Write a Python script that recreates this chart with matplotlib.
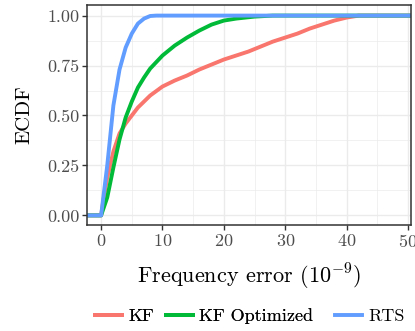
import matplotlib
matplotlib.use("Agg")
import matplotlib.pyplot as plt
from matplotlib.lines import Line2D

plt.rcParams['font.family'] = ['cmr10', 'DejaVu Serif']
plt.rcParams['mathtext.fontset'] = 'cm'
plt.rcParams['axes.formatter.use_mathtext'] = True

# ECDF curves (x: frequency error in 1e-9, y: ECDF)
kf_x = [-10, 0, 0.5, 1, 2, 3, 4, 5, 6, 7, 8, 10, 12, 14, 16, 18, 20, 22, 24, 26, 28, 30, 32, 34, 36, 38, 40, 42, 60]
kf_y = [0, 0, 0.10, 0.19, 0.32, 0.41, 0.46, 0.50, 0.54, 0.57, 0.60, 0.645, 0.675, 0.70, 0.73, 0.755, 0.78, 0.80,
        0.82, 0.845, 0.87, 0.89, 0.91, 0.935, 0.955, 0.975, 0.99, 1.0, 1.0]

kfo_x = [-10, 0, 1, 2, 3, 4, 5, 6, 7, 8, 10, 12, 14, 16, 18, 20, 22, 25, 28, 60]
kfo_y = [0, 0, 0.09, 0.24, 0.38, 0.49, 0.57, 0.64, 0.69, 0.735, 0.80, 0.85, 0.89, 0.925, 0.955, 0.975, 0.985,
         0.995, 1.0, 1.0]

rts_x = [-10, 0, 1, 2, 3, 4, 5, 6, 7, 8, 9, 60]
rts_y = [0, 0, 0.25, 0.55, 0.73, 0.84, 0.91, 0.96, 0.985, 0.998, 1.0, 1.0]

labels = ['KF', 'KF Optimized', 'RTS']
colors = ['#F8766D', '#00BA38', '#619CFF']

fig = plt.figure(figsize=(4.15, 3.31), dpi=100)
ax = fig.add_axes([87/415, 1 - 225/331, 324/415, 220/331])

for xs, ys, c in zip([kf_x, kfo_x, rts_x], [kf_y, kfo_y, rts_y], colors):
    ax.plot(xs, ys, color=c, lw=2.8, solid_capstyle='butt')

ax.set_xlim(-2.3, 50.5)
ax.set_ylim(-0.048, 1.053)
ax.set_xticks([0, 10, 20, 30, 40, 50])
ax.set_xticks([5, 15, 25, 35, 45], minor=True)
ax.set_yticks([0, 0.25, 0.5, 0.75, 1.0])
ax.set_yticks([0.125, 0.375, 0.625, 0.875], minor=True)
ax.set_yticklabels(['0.00', '0.25', '0.50', '0.75', '1.00'])
ax.grid(True, which='major', color='#EBEBEB', lw=1.0)
ax.grid(True, which='minor', color='#EBEBEB', lw=0.5)
ax.set_axisbelow(True)
ax.tick_params(which='major', length=3.5, width=1, color='#333333', labelcolor='#4D4D4D', labelsize=13, pad=2)
ax.tick_params(which='minor', length=0)
for s in ax.spines.values():
    s.set_color('#333333')
    s.set_linewidth(1.1)

ax.set_xlabel('Frequency error ($10^{-9}$)', fontsize=16, labelpad=9)
ax.set_ylabel('ECDF', fontsize=15, labelpad=10)

handles = [Line2D([], [], color=c, lw=2.8) for c in colors]
kw = dict(loc='lower left', frameon=False, fontsize=13, handlelength=1.5, handletextpad=0.35,
          columnspacing=0.65, borderpad=0, borderaxespad=0)
leg1 = fig.legend(handles[:2], labels[:2], ncol=2, bbox_to_anchor=(95/415, 0.02), **kw)
fig.add_artist(leg1)
fig.legend(handles[2:], labels[2:], ncol=1, bbox_to_anchor=(335/415, 0.02), **kw)

fig.savefig('out.png', dpi=100)
